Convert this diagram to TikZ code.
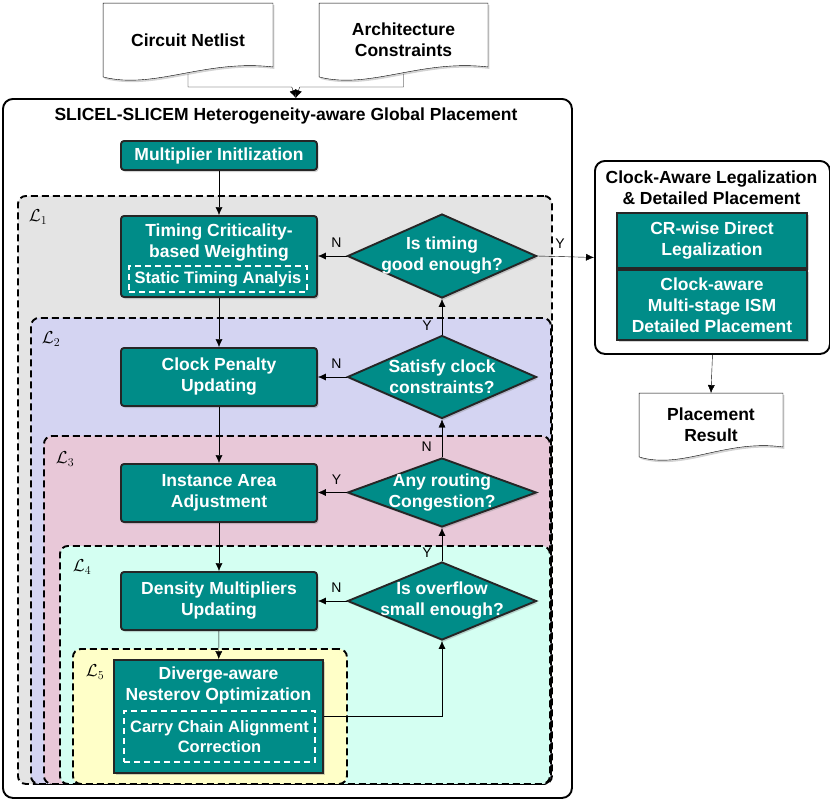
\documentclass[tikz,border=0pt]{standalone}
\usepackage{fontspec}
\setmainfont{Liberation Sans}
\usetikzlibrary{shapes.geometric,shadows,calc,arrows.meta,backgrounds}

\definecolor{boxteal}{RGB}{0,140,136}
\definecolor{layA}{RGB}{228,228,228}
\definecolor{layB}{RGB}{212,212,242}
\definecolor{layC}{RGB}{232,200,216}
\definecolor{layD}{RGB}{212,255,242}
\definecolor{layE}{RGB}{255,255,200}

\newcommand{\docoutline}[1]{(#1.north west) -- (#1.north east) -- ([yshift=10pt]#1.south east) .. controls ($(#1.south west)!0.6!(#1.south east)+(0,18pt)$) and ($(#1.south west)!0.3!(#1.south east)+(0,-13pt)$) .. (#1.south west) -- cycle}

\begin{document}
\begin{tikzpicture}[x=1pt,y=-1pt,line width=1.9pt,>={Latex[length=8pt,width=7pt]},
    every node/.style={font=\fontsize{17.5}{21}\selectfont\bfseries,align=center,inner sep=0pt},
    boxshadow/.style={drop shadow={opacity=0.35,shadow xshift=1.5pt,shadow yshift=-2pt}},
    tealbox/.style={rectangle,draw=black!85,fill=boxteal,text=white,minimum width=196pt,boxshadow},
    decision/.style={diamond,aspect=2.5,draw=black!85,fill=boxteal,text=white,minimum width=189pt,inner sep=-10pt,boxshadow},
    subbox/.style={draw=white,dash pattern=on 6pt off 4pt,text=white,font=\fontsize{16.5}{20}\selectfont\bfseries},
    layer/.style={draw,dash pattern=on 7pt off 4pt,rounded corners=8pt,anchor=north west},
    laytag/.style={font=\fontsize{18}{20}\selectfont},
    panel/.style={draw,rounded corners=10pt,anchor=north west},
    docbox/.style={rectangle},
    yn/.style={font=\fontsize{14}{15}\selectfont,inner sep=2pt}]

    \useasboundingbox (0,0) rectangle (830,801);

    \node (cn) [docbox,minimum width=168pt,minimum height=72pt] at (188,40) {Circuit Netlist};
    \node (ac) [docbox,minimum width=167pt,minimum height=72pt] at (403.5,40) {Architecture\\Constraints};

    \node (gp) [panel,minimum width=569pt,minimum height=699pt] at (2,98) {};
    \node (gpt) at (286,116) {SLICEL-SLICEM Heterogeneity-aware Global Placement};
    \node (mi) [tealbox,rounded corners=3pt,minimum height=29pt] at (219,155.5) {Multiplier Initlization};

    \node (L1) [layer,fill=layA,minimum width=534pt,minimum height=588pt] at (17,195) {};
    \node (L1t) [laytag] at ([xshift=21pt,yshift=-22pt]L1.north west) {$\mathcal{L}_1$};
    \node (L2) [layer,fill=layB,minimum width=520pt,minimum height=466pt] at (30,317) {};
    \node (L2t) [laytag] at ([xshift=21pt,yshift=-22pt]L2.north west) {$\mathcal{L}_2$};
    \node (L3) [layer,fill=layC,minimum width=506pt,minimum height=348pt] at (43,435) {};
    \node (L3t) [laytag] at ([xshift=22pt,yshift=-24pt]L3.north west) {$\mathcal{L}_3$};
    \node (L4) [layer,fill=layD,minimum width=490pt,minimum height=238pt] at (59,545) {};
    \node (L4t) [laytag] at ([xshift=23pt,yshift=-22pt]L4.north west) {$\mathcal{L}_4$};
    \node (L5) [layer,fill=layE,minimum width=274pt,minimum height=135pt] at (72,648) {};
    \node (L5t) [laytag] at ([xshift=23pt,yshift=-24pt]L5.north west) {$\mathcal{L}_5$};

    \node (tw) [tealbox,rounded corners=3pt,minimum height=81pt] at (219,256.5) {};
    \node (twt) [text=white] at (219,242.5) {Timing Criticality-\\based Weighting};
    \node (sta) [subbox,minimum width=178pt,minimum height=26pt] at (218,279) {Static Timing Analyis};
    \node (cp) [tealbox,rounded corners=3pt,minimum height=58pt] at (219,377) {Clock Penalty\\Updating};
    \node (ia) [tealbox,rounded corners=3pt,minimum height=58pt] at (219,493) {Instance Area\\Adjustment};
    \node (dm) [tealbox,rounded corners=3pt,minimum height=58pt] at (219,601) {Density Multipliers\\Updating};
    \node (dn) [tealbox,minimum width=209pt,minimum height=113pt] at (218.5,716.5) {};
    \node (dnt) [text=white] at (218.5,685.5) {Diverge-aware\\Nesterov Optimization};
    \node (cc) [subbox,minimum width=191pt,minimum height=51pt] at (219.5,736.5) {Carry Chain Alignment\\Correction};

    \node (d1) [decision,minimum height=84pt] at (442,256) {Is timing\\good enough?};
    \node (d2) [decision,minimum height=83pt] at (442,377) {Satisfy clock\\constraints?};
    \node (d3) [decision,minimum height=69pt] at (442,492.5) {Any routing\\Congestion?};
    \node (d4) [decision,minimum height=78pt] at (442,601) {Is overflow\\small enough?};

    \node (cl) [panel,minimum width=235pt,minimum height=193pt] at (594,160) {};
    \node (clt) at (711.5,188) {Clock-Aware Legalization\\\& Detailed Placement};
    \node (cr) [tealbox,minimum width=190pt,minimum height=55pt,anchor=north] at (712,212) {CR-wise Direct\\Legalization};
    \node (cm) [tealbox,minimum width=190pt,minimum height=70pt,anchor=north] at (cr.south) {Clock-aware\\Multi-stage ISM\\Detailed Placement};
    \node (pr) [docbox,minimum width=142pt,minimum height=62pt] at (711,425) {Placement\\Result};

    \begin{pgfonlayer}{background}
    \draw [fill=white,boxshadow] \docoutline{cn};
    \draw [fill=white,boxshadow] \docoutline{ac};
    \draw [fill=white,boxshadow] \docoutline{pr};
    \end{pgfonlayer}

    \coordinate (m) at ($(cn.south)!0.5!(ac.south)+(0,-10pt)$);
    \draw [->] ([yshift=3pt]cn.south) |- ([xshift=-4pt]m) -- (m |- gp.north);
    \draw [->] ([yshift=3pt]ac.south) |- ([xshift=4pt]m) -- (m |- gp.north);

    \draw [->] (mi) -- (tw);
    \draw [->] (tw) -- (cp);
    \draw [->] (cp) -- (ia);
    \draw [->] (ia) -- (dm);
    \draw [->] (dm) -- (dn);
    \draw [->] (dn.east) -| (d4.south);

    \draw [->] (d4.west) -- node[yn,above=6pt,pos=0.35]{N} (d4.west -| dm.east);
    \draw [->] (d3.west) -- node[yn,above=6pt,pos=0.35]{Y} (d3.west -| ia.east);
    \draw [->] (d2.west) -- node[yn,above=6pt,pos=0.35]{N} (d2.west -| cp.east);
    \draw [->] (d1.west) -- node[yn,above=6pt,pos=0.35]{N} (d1.west -| tw.east);

    \draw [->] (d4.north) -- node[yn,left=8pt,pos=0.25]{Y} (d3.south);
    \draw [->] (d3.north) -- node[yn,left=8pt,pos=0.27]{N} (d2.south);
    \draw [->] (d2.north) -- node[yn,left=8pt,pos=0.25]{Y} (d1.south);

    \draw [->] (d1.east) -- node[yn,above=6pt,pos=0.4]{Y} (cl.west);
    \draw [->] (cl.south) -- (pr.north);
\end{tikzpicture}
\end{document}
